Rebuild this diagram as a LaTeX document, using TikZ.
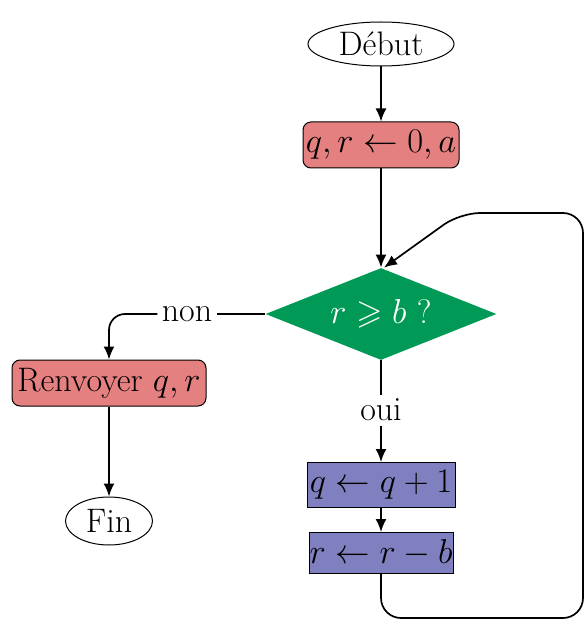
\documentclass[tikz,border=0pt]{standalone}
\usepackage{amssymb}
\usetikzlibrary{shapes.geometric,arrows.meta}
\definecolor{boxred}{RGB}{229,128,128}
\definecolor{boxgreen}{RGB}{0,153,85}
\definecolor{boxblue}{RGB}{128,128,192}
\tikzset{
  every node/.style={font=\fontsize{17}{20}\selectfont},
  terminal/.style={ellipse,draw,line width=0.5pt,inner sep=0pt},
  action/.style={rectangle,rounded corners=4pt,draw,line width=0.5pt,fill=boxred,minimum height=23pt,inner sep=0pt},
  calc/.style={rectangle,draw,line width=0.5pt,fill=boxblue,inner sep=0pt},
  test/.style={diamond,fill=boxgreen,text=white,inner sep=0pt,aspect=2.5,minimum width=115.5pt,minimum height=46pt},
  flow/.style={line width=0.85pt,-{Latex[length=6.5pt,width=5.5pt]}},
  link/.style={line width=0.85pt}
}
\begin{document}
\begin{tikzpicture}[x=0.5pt,y=-0.5pt]
  \useasboundingbox (0,0) rectangle (584,620);
  % nodes
  \node[terminal,minimum width=73pt,minimum height=22pt] (debut) at (381,44) {Début};
  \node[action,minimum width=78pt] (init) at (381,145) {$q, r \leftarrow 0, a$};
  \node[test] (cond) at (381,314) {$r \geqslant b$ ?};
  \node[action,minimum width=97pt] (ret) at (109,383) {Renvoyer $q, r$};
  \node[terminal,minimum width=43.5pt,minimum height=24pt] (fin) at (109,521) {Fin};
  \node[calc,minimum width=74pt,minimum height=22.5pt] (incq) at (381,485) {$q \leftarrow q+1$};
  \node[calc,minimum width=72pt,minimum height=20.5pt] (decr) at (381,553) {$r \leftarrow r-b$};
  \node[fill=white,inner sep=2pt] (non) at (187,314) {non};
  \node[fill=white,inner sep=2pt] (oui) at (381,410) {oui};
  \coordinate (c1) at (381,618);
  \coordinate (c2) at (583,618);
  \coordinate (c3) at (583,213);
  \coordinate (c4) at (460,213);
  % connectors
  \draw[flow] (debut) -- (init);
  \draw[flow] (init) -- (cond.north);
  \draw[link] (cond.west) -- (non.east);
  \draw[flow,rounded corners=8pt] (non.west) -| (ret.north);
  \draw[flow] (ret) -- (fin);
  \draw[link] (cond.south) -- (oui.north);
  \draw[flow] (oui.south) -- (incq.north);
  \draw[flow] (incq) -- (decr);
  \draw[flow,rounded corners=10pt] (decr.south) -- (c1) -- (c2) -- (c3) -- (c4) -- ([xshift=1.5pt]cond.north);
\end{tikzpicture}
\end{document}
